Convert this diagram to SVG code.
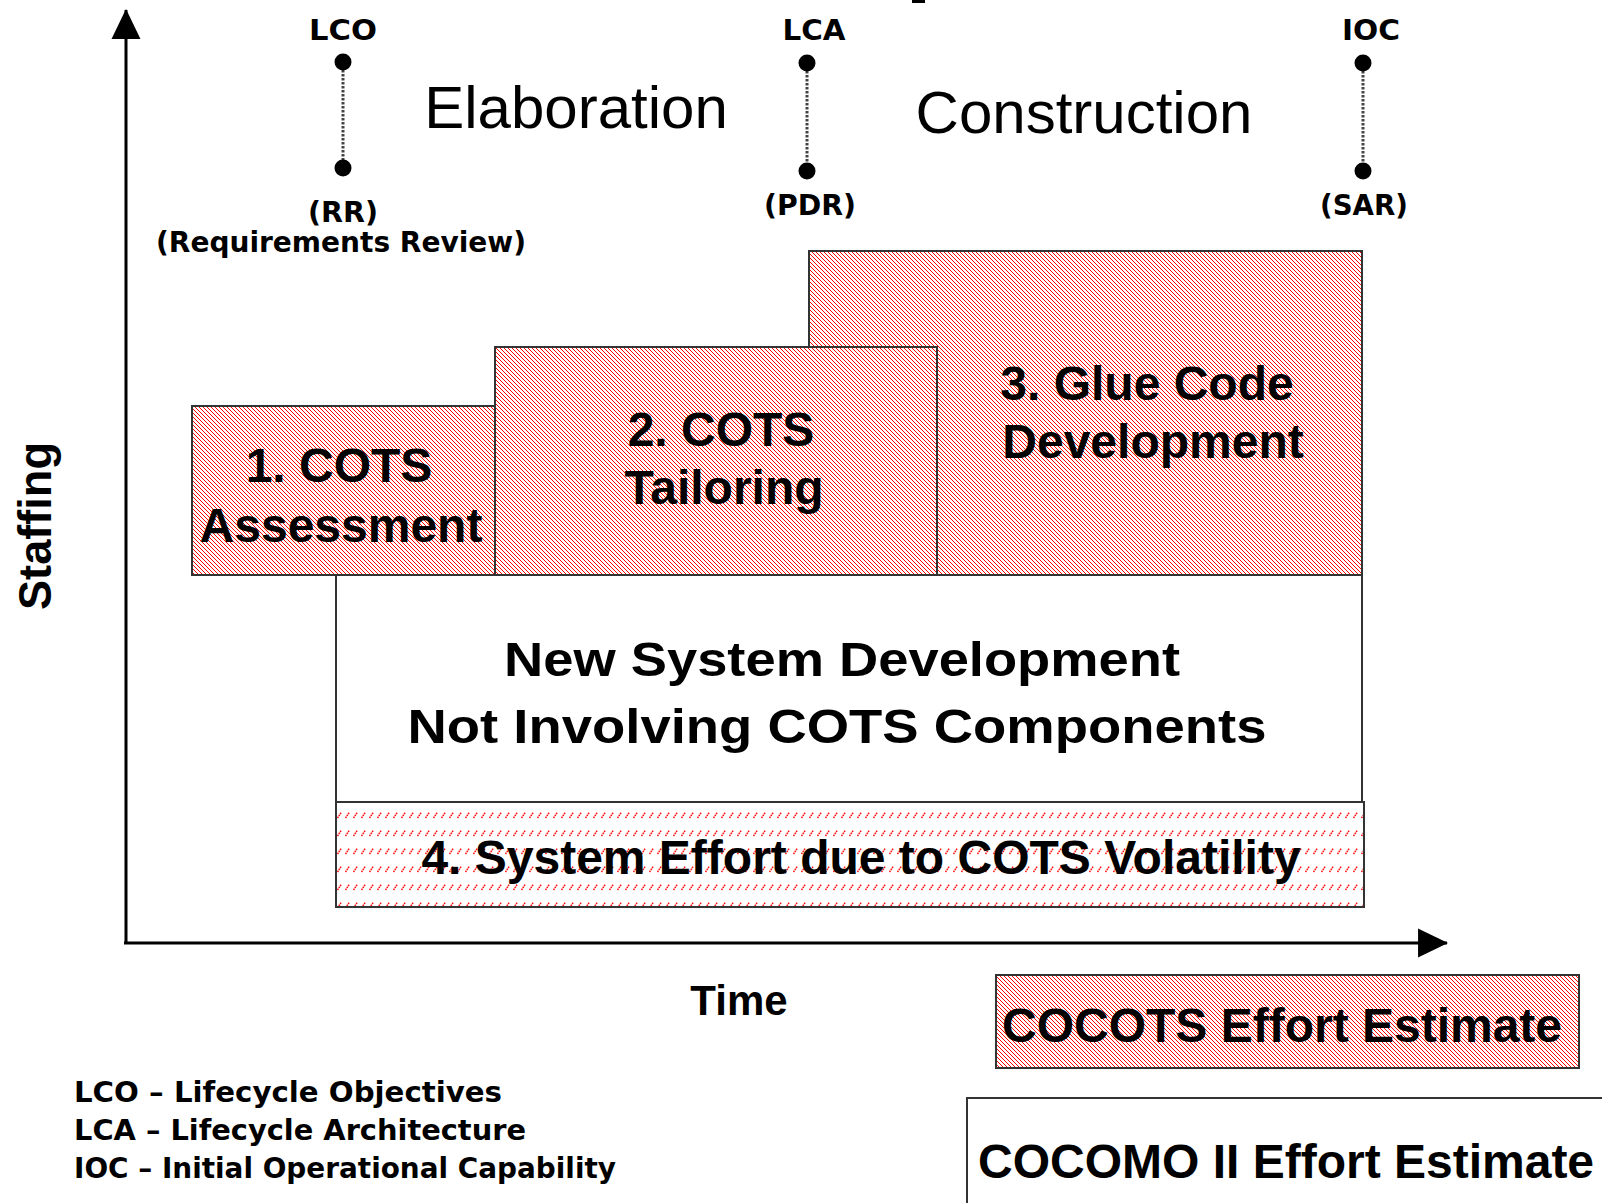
<svg xmlns="http://www.w3.org/2000/svg" width="1602" height="1203" viewBox="0 0 1602 1203">
<style>
.box{stroke:#333;stroke-width:2}
.hatch{fill:url(#hatch)}
.vol{fill:url(#vol)}
.plain{fill:#fff}
.big{font-family:"Liberation Sans",Arial,sans-serif;font-weight:bold;font-size:48px;fill:#000;text-anchor:middle}
.phase{font-family:"Liberation Sans",Arial,sans-serif;font-size:60px;fill:#000;text-anchor:middle}
.small{font-family:"DejaVu Sans",Verdana,sans-serif;font-weight:bold;font-size:28px;fill:#000;text-anchor:middle}
.legend{font-family:"DejaVu Sans",Verdana,sans-serif;font-weight:bold;font-size:29px;fill:#000}
.axis{stroke:#000;stroke-width:3;fill:none}
.ms{stroke:#444;stroke-width:3;stroke-dasharray:2.5 1.5}
.dot{fill:#000}
</style>
<defs>
<pattern id="hatch" patternUnits="userSpaceOnUse" width="4" height="4">
<rect width="4" height="4" fill="#fff"/>
<path d="M-1,-1 L5,5 M-1,3 L1,5 M3,-1 L5,1" stroke="#ff0000" stroke-width="1"/>
</pattern>
<pattern id="vol" patternUnits="userSpaceOnUse" width="8" height="18">
<rect width="8" height="18" fill="#fff"/>
<path d="M1.5,8 L5.5,2" stroke="#ff1010" stroke-width="1.5" stroke-dasharray="1.6 0.8"/>
</pattern>
<marker id="arrow" markerUnits="userSpaceOnUse" markerWidth="30" markerHeight="30" viewBox="0 0 29 28" refX="28" refY="14" orient="auto">
<path d="M0,0 L29,14 L0,28 z" fill="#000"/>
</marker>
</defs>
<rect width="1602" height="1203" fill="#fff"/>
<rect x="912" y="0" width="13" height="3" fill="#000"/>

<g id="connectors">
<line class="axis" x1="126" y1="944" x2="126" y2="10" marker-end="url(#arrow)"/>
<line class="axis" x1="124" y1="943" x2="1447" y2="943" marker-end="url(#arrow)"/>
</g>

<g id="axis-labels">
<text class="big" x="739" y="1015" style="font-size:42px">Time</text>
<text class="big" transform="translate(51,526) rotate(-90)" style="font-size:46px" textLength="168" lengthAdjust="spacingAndGlyphs">Staffing</text>
</g>

<g id="milestone-lco">
<text class="small" x="343" y="40" textLength="68" lengthAdjust="spacingAndGlyphs">LCO</text>
<line class="ms" x1="343" y1="62" x2="343" y2="168"/>
<circle class="dot" cx="343" cy="62" r="8.5"/>
<circle class="dot" cx="343" cy="168" r="8.5"/>
<text class="small" x="343" y="222" textLength="70" lengthAdjust="spacingAndGlyphs">(RR)</text>
<text class="small" x="341" y="252" textLength="370" lengthAdjust="spacingAndGlyphs">(Requirements Review)</text>
</g>
<g id="milestone-lca">
<text class="small" x="814" y="40" textLength="63" lengthAdjust="spacingAndGlyphs">LCA</text>
<line class="ms" x1="807" y1="63" x2="807" y2="171"/>
<circle class="dot" cx="807" cy="63" r="8.5"/>
<circle class="dot" cx="807" cy="171" r="8.5"/>
<text class="small" x="810" y="215" textLength="92" lengthAdjust="spacingAndGlyphs">(PDR)</text>
</g>
<g id="milestone-ioc">
<text class="small" x="1371" y="40" textLength="58" lengthAdjust="spacingAndGlyphs">IOC</text>
<line class="ms" x1="1363" y1="63" x2="1363" y2="171"/>
<circle class="dot" cx="1363" cy="63" r="8.5"/>
<circle class="dot" cx="1363" cy="171" r="8.5"/>
<text class="small" x="1364" y="215" textLength="88" lengthAdjust="spacingAndGlyphs">(SAR)</text>
</g>

<g id="phase-elaboration"><text class="phase" x="576" y="128">Elaboration</text></g>
<g id="phase-construction"><text class="phase" x="1084" y="133">Construction</text></g>

<g id="glue-code">
<rect class="box hatch" x="809" y="251" width="553" height="324"/>
<text class="big" x="1147" y="400">3. Glue Code</text>
<text class="big" x="1153" y="458">Development</text>
</g>
<g id="cots-tailoring">
<rect class="box hatch" x="495" y="347" width="442" height="228"/>
<text class="big" x="721" y="446">2. COTS</text>
<text class="big" x="724" y="504">Tailoring</text>
</g>
<g id="cots-assessment">
<rect class="box hatch" x="192" y="406" width="303" height="169"/>
<text class="big" x="339" y="482">1. COTS</text>
<text class="big" x="341" y="542">Assessment</text>
</g>
<g id="new-system">
<rect class="box plain" x="336" y="575" width="1026" height="227"/>
<text class="big" x="842" y="676" textLength="676" lengthAdjust="spacingAndGlyphs">New System Development</text>
<text class="big" x="837" y="743" textLength="859" lengthAdjust="spacingAndGlyphs">Not Involving COTS Components</text>
</g>
<g id="cots-volatility">
<rect class="box vol" x="336" y="802" width="1028" height="105"/>
<text class="big" x="861" y="874">4. System Effort due to COTS Volatility</text>
</g>

<g id="legend-cocots">
<rect class="box hatch" x="996" y="975" width="583" height="93"/>
<text class="big" x="1282" y="1042">COCOTS Effort Estimate</text>
</g>
<g id="legend-cocomo">
<rect class="box plain" x="967" y="1098" width="660" height="130"/>
<text class="big" x="978" y="1178" style="text-anchor:start">COCOMO II Effort Estimate</text>
</g>

<g id="legend-abbrev">
<text class="legend" x="74" y="1102" textLength="428" lengthAdjust="spacingAndGlyphs">LCO – Lifecycle Objectives</text>
<text class="legend" x="74" y="1140" textLength="452" lengthAdjust="spacingAndGlyphs">LCA – Lifecycle Architecture</text>
<text class="legend" x="74" y="1178" textLength="542" lengthAdjust="spacingAndGlyphs">IOC – Initial Operational Capability</text>
</g>
</svg>
